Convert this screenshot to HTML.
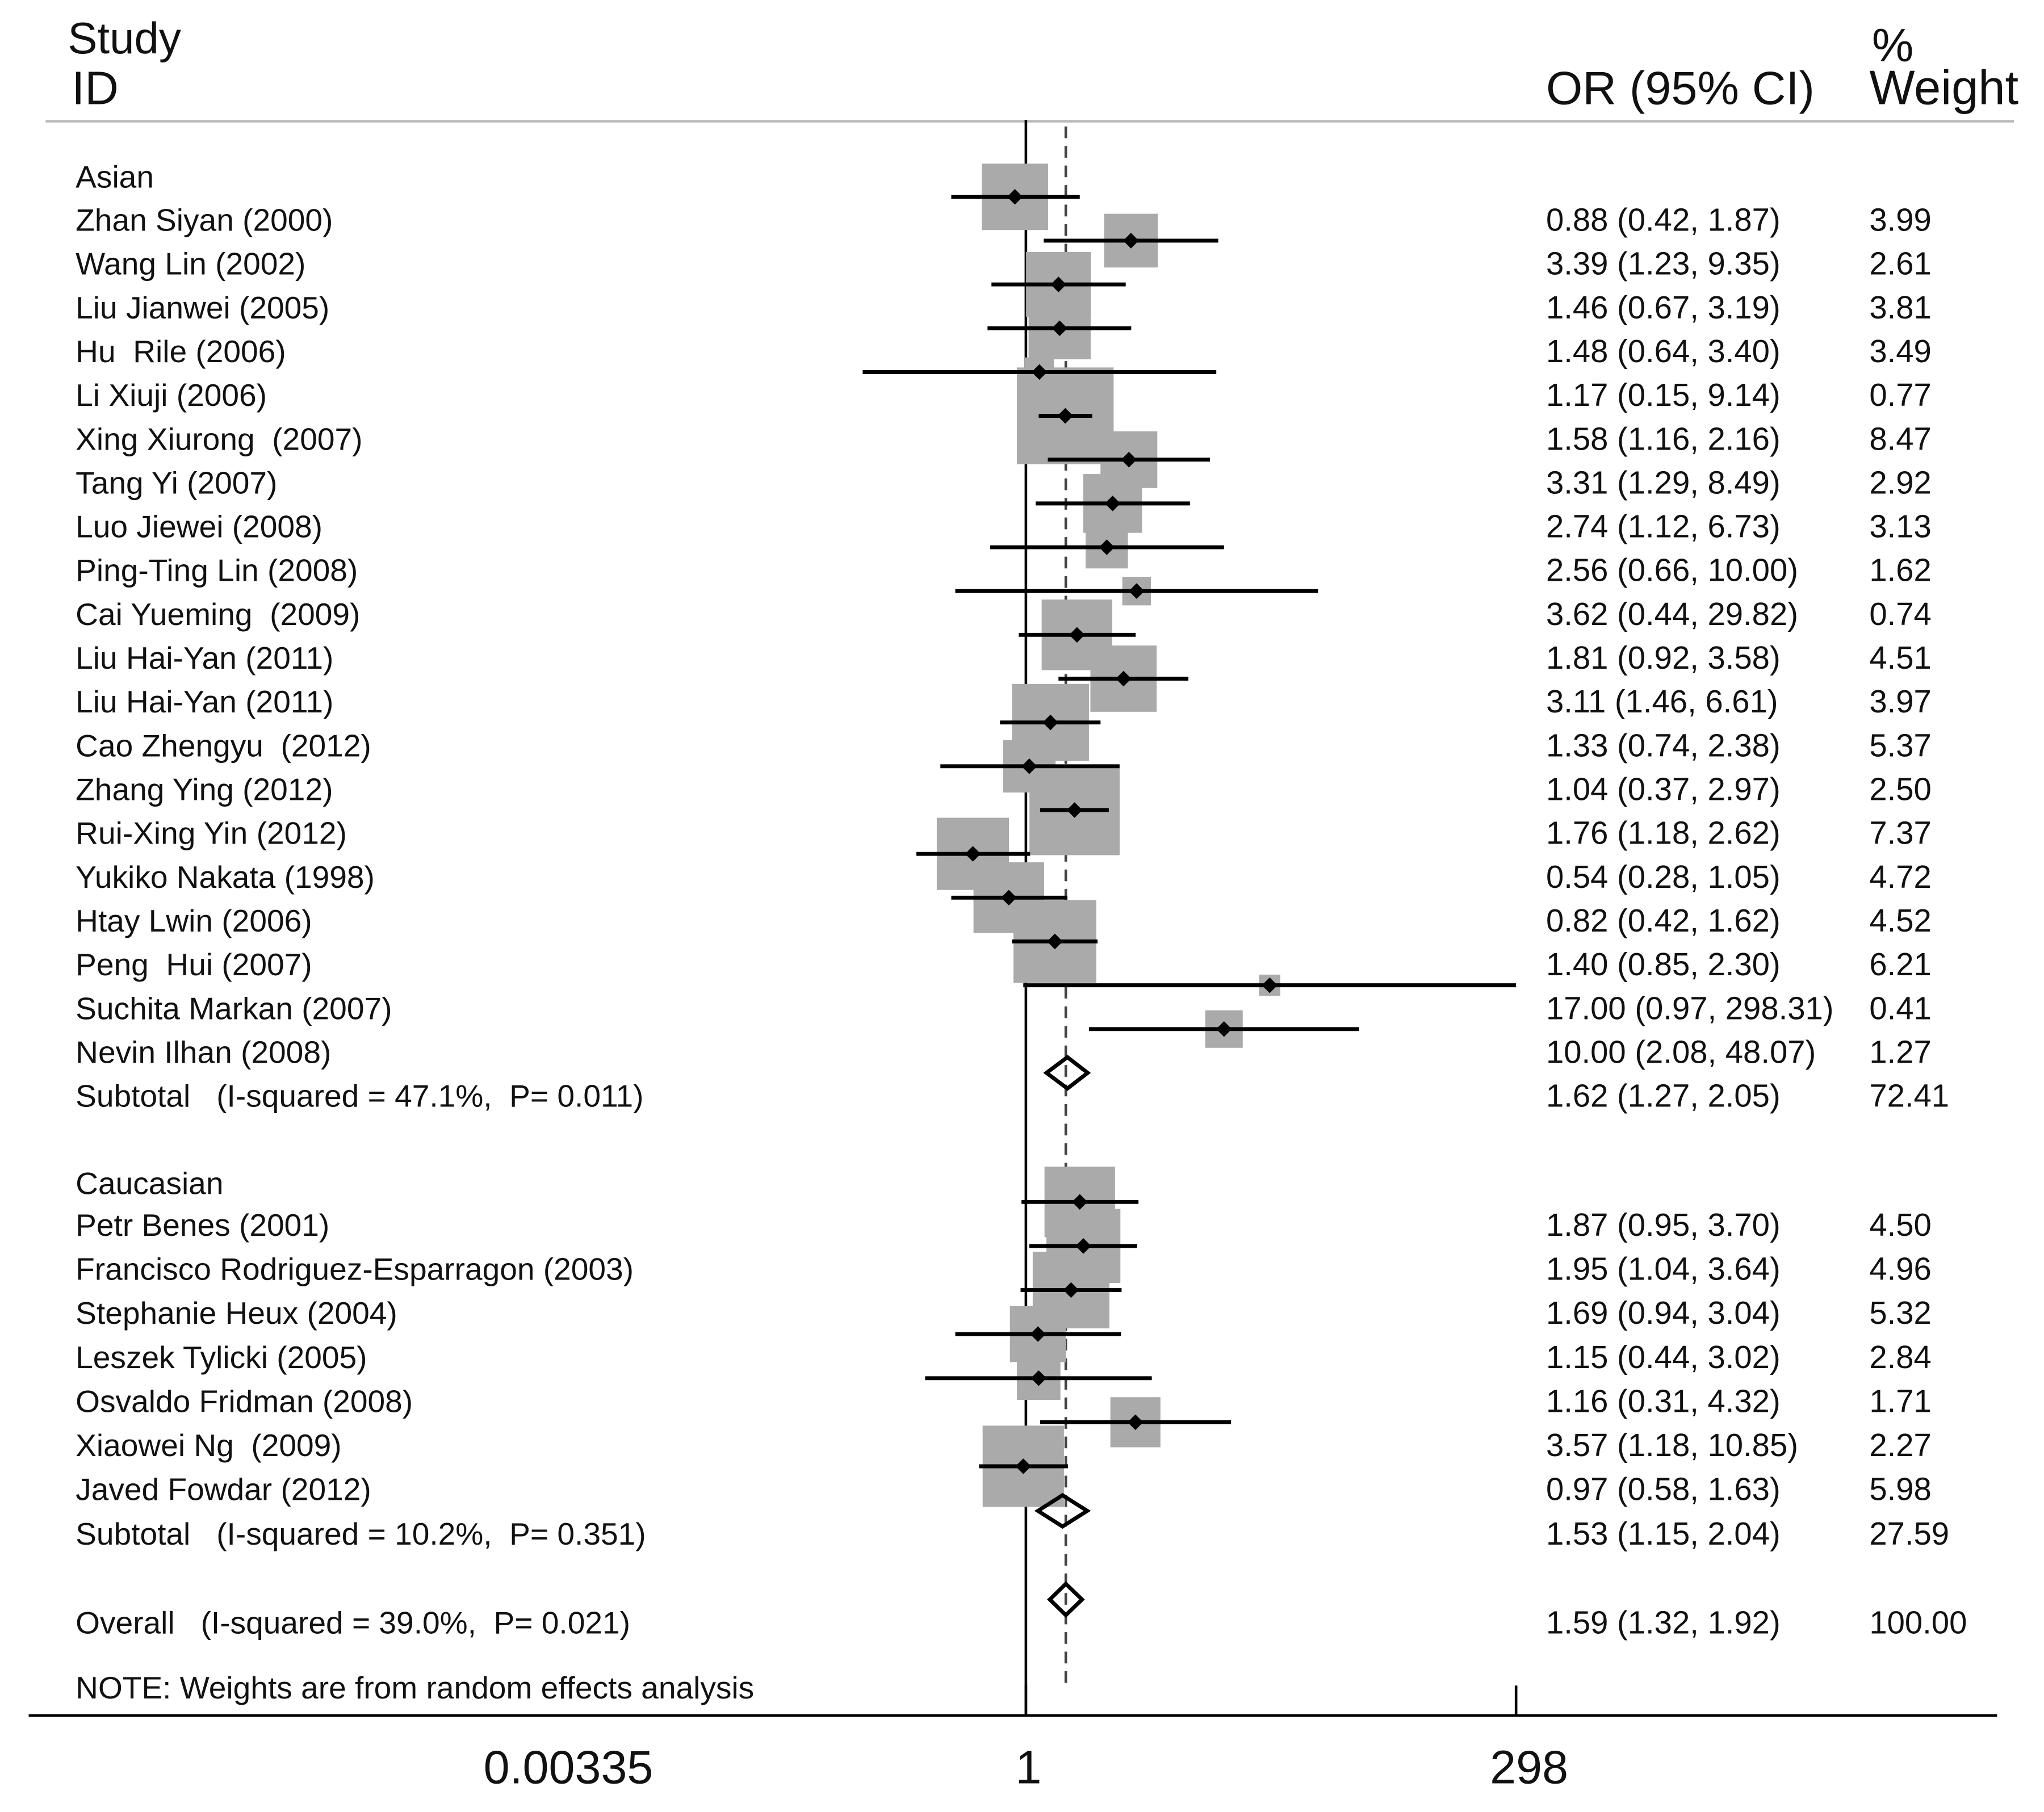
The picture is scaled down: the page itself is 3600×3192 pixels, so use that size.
<!DOCTYPE html>
<html><head><meta charset="utf-8"><style>
html,body{margin:0;padding:0;background:#fff}
svg{display:block}
text{font-family:"Liberation Sans",Arial,sans-serif;fill:#111;white-space:pre}
</style></head><body>
<svg id="chart" width="3600" height="3192" viewBox="0 0 1568 1390" preserveAspectRatio="none" xmlns="http://www.w3.org/2000/svg">
<g id="static">
<text x="52" y="41" font-size="34">Study</text>
<text x="55" y="80" font-size="36">ID</text>
<text x="1186" y="80" font-size="36">OR (95% CI)</text>
<text x="1436" y="47" font-size="36">%</text>
<text x="1434" y="80" font-size="37">Weight</text>
<line x1="35" y1="93" x2="1545" y2="93" stroke="#bbb" stroke-width="2"/>
<text x="58" y="144" font-size="24">Asian</text>
<text x="58" y="916" font-size="24">Caucasian</text>
<text x="58" y="1303" font-size="24">NOTE: Weights are from random effects analysis</text>
</g>
<g id="marks"></g>
</svg>
<script>
const groupNames = ["Asian","Caucasian"];
const studies = ["Zhan Siyan (2000)","Wang Lin (2002)","Liu Jianwei (2005)","Hu  Rile (2006)","Li Xiuji (2006)","Xing Xiurong  (2007)","Tang Yi (2007)","Luo Jiewei (2008)","Ping-Ting Lin (2008)","Cai Yueming  (2009)","Liu Hai-Yan (2011)","Liu Hai-Yan (2011)","Cao Zhengyu  (2012)","Zhang Ying (2012)","Rui-Xing Yin (2012)","Yukiko Nakata (1998)","Htay Lwin (2006)","Peng  Hui (2007)","Suchita Markan (2007)","Nevin Ilhan (2008)",
"Petr Benes (2001)","Francisco Rodriguez-Esparragon (2003)","Stephanie Heux (2004)","Leszek Tylicki (2005)","Osvaldo Fridman (2008)","Xiaowei Ng  (2009)","Javed Fowdar (2012)"];
const studyGroup = [0,0,0,0,0,0,0,0,0,0,0,0,0,0,0,0,0,0,0,0,1,1,1,1,1,1,1];
const orValues = [0.88,3.39,1.46,1.48,1.17,1.58,3.31,2.74,2.56,3.62,1.81,3.11,1.33,1.04,1.76,0.54,0.82,1.40,17.00,10.00,1.87,1.95,1.69,1.15,1.16,3.57,0.97];
const lowerCI = [0.42,1.23,0.67,0.64,0.15,1.16,1.29,1.12,0.66,0.44,0.92,1.46,0.74,0.37,1.18,0.28,0.42,0.85,0.97,2.08,0.95,1.04,0.94,0.44,0.31,1.18,0.58];
const upperCI = [1.87,9.35,3.19,3.40,9.14,2.16,8.49,6.73,10.00,29.82,3.58,6.61,2.38,2.97,2.62,1.05,1.62,2.30,298.31,48.07,3.70,3.64,3.04,3.02,4.32,10.85,1.63];
const weights = [3.99,2.61,3.81,3.49,0.77,8.47,2.92,3.13,1.62,0.74,4.51,3.97,5.37,2.50,7.37,4.72,4.52,6.21,0.41,1.27,4.50,4.96,5.32,2.84,1.71,2.27,5.98];
const pooledLabels = ["Subtotal   (I-squared = 47.1%,  P= 0.011)","Subtotal   (I-squared = 10.2%,  P= 0.351)","Overall   (I-squared = 39.0%,  P= 0.021)"];
const pooledOR = [1.62,1.53,1.59];
const pooledLower = [1.27,1.15,1.32];
const pooledUpper = [2.05,2.04,1.92];
const pooledWeight = ["72.41","27.59","100.00"];
const tickValues = [0.00335,1,298];
const tickLabels = ["0.00335","1","298"];

const NS="http://www.w3.org/2000/svg";
const g=document.getElementById('marks');
const x0=787, scale=66.0;
function xs(v){return x0+Math.log(v)*scale;}
function mk(tag,attrs){const e=document.createElementNS(NS,tag);for(const k in attrs)e.setAttribute(k,attrs[k]);g.appendChild(e);return e;}
function fmt(v){return v.toFixed(2);}
function rowY(i){return studyGroup[i]===0 ? 169+33.6*i : 940+33.8*(i-20);}
const textY=[841,1177,1245];

let e=mk('line',{x1:x0,y1:92,x2:x0,y2:1316,stroke:'#000','stroke-width':2});


e=mk('line',{x1:xs(pooledOR[2]),y1:97,x2:xs(pooledOR[2]),y2:1296,stroke:'#444','stroke-width':2,'stroke-dasharray':'9,6'});



for(let i=0;i<studies.length;i++){
  const y=rowY(i)-18, s=25.5*Math.sqrt(weights[i]), cx=xs(orValues[i]);
  e=mk('rect',{x:cx-s/2,y:y-s/2,width:s,height:s,fill:'#aaa'});
  
  
}
for(let i=0;i<studies.length;i++){
  const ty=rowY(i), y=ty-18, cx=xs(orValues[i]);
  e=mk('line',{x1:xs(lowerCI[i]),y1:y,x2:Math.min(xs(upperCI[i]),1163),y2:y,stroke:'#000','stroke-width':3});
  
  
  e=mk('path',{d:`M${cx-6} ${y}L${cx} ${y-6}L${cx+6} ${y}L${cx} ${y+6}Z`,fill:'#000'});
  
  
  e=mk('text',{x:58,y:ty+8,'font-size':24});e.textContent=studies[i];
  
  
  e=mk('text',{x:1186,y:ty+8,'font-size':24.5});e.textContent=`${fmt(orValues[i])} (${fmt(lowerCI[i])}, ${fmt(upperCI[i])})`;
  
  
  e=mk('text',{x:1434,y:ty+8,'font-size':24.5});e.textContent=fmt(weights[i]);
  
  
}
for(let j=0;j<3;j++){
  const ty=textY[j], y=ty-18, cx=xs(pooledOR[j]), l=xs(pooledLower[j]), u=xs(pooledUpper[j]);
  e=mk('path',{d:`M${l} ${y}L${cx} ${y-12}L${u} ${y}L${cx} ${y+12}Z`,fill:'none',stroke:'#000','stroke-width':3});
  
  
  e=mk('text',{x:58,y:ty+8,'font-size':24});e.textContent=pooledLabels[j];
  
  
  e=mk('text',{x:1186,y:ty+8,'font-size':24.5});e.textContent=`${fmt(pooledOR[j])} (${fmt(pooledLower[j])}, ${fmt(pooledUpper[j])})`;
  
  
  e=mk('text',{x:1434,y:ty+8,'font-size':24.5});e.textContent=pooledWeight[j];
  
  
}
e=mk('line',{x1:22,y1:1316,x2:1532,y2:1316,stroke:'#000','stroke-width':2});


const labelX=[436,789,1173];
for(let k=0;k<tickValues.length;k++){
  if(k>0){
    e=mk('line',{x1:xs(tickValues[k]),y1:1293,x2:xs(tickValues[k]),y2:1316,stroke:'#000','stroke-width':2});
    
    
  }
  e=mk('text',{x:labelX[k],y:1368,'font-size':36,'text-anchor':'middle'});e.textContent=tickLabels[k];
  
  
}
</script>
</body></html>
